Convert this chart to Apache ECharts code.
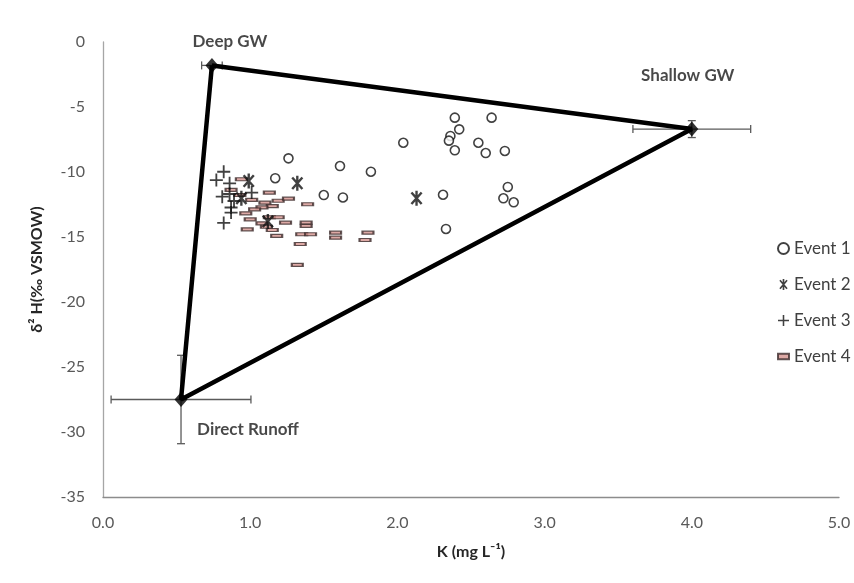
<!DOCTYPE html>
<html>
<head>
<meta charset="utf-8">
<script src="https://cdn.jsdelivr.net/npm/echarts@6/dist/echarts.min.js"></script>
<style>
  html, body { margin: 0; padding: 0; background: #fff; }
  #chart { width: 854px; height: 583px; }
</style>
</head>
<body>
<div id="chart"></div>
<script>
// end members: Deep GW, Shallow GW, Direct Runoff
const endNames = ['Deep GW', 'Shallow GW', 'Direct Runoff']
const endX = [0.74, 4.0, 0.53]
const endY = [-1.8, -6.7, -27.5]
const endXErr = [0.07, 0.40, 0.475]
const endYErr = [0, 0.65, 3.4]

// samples [K, d2H]
const event1 = [
  [2.39, -5.82], [2.64, -5.82], [2.42, -6.72], [2.36, -7.23], [2.35, -7.59],
  [2.55, -7.75], [2.04, -7.75], [2.39, -8.33], [2.60, -8.54], [2.73, -8.38],
  [1.61, -9.54], [1.82, -9.98], [1.26, -8.95], [1.17, -10.48], [1.50, -11.77],
  [1.63, -11.96], [2.31, -11.75], [2.75, -11.15], [2.72, -12.02], [2.79, -12.33],
  [2.33, -14.38]
]
const event2 = [
  [1.32, -10.87], [2.13, -12.02], [0.99, -10.69], [0.94, -12.02], [1.12, -13.8]
]
const event3 = [
  [0.82, -9.98], [0.77, -10.62], [0.86, -10.87], [0.81, -11.9], [0.86, -11.69],
  [0.89, -12.23], [0.87, -12.73], [0.87, -13.12], [0.82, -13.92], [1.01, -11.58]
]
const event4 = [
  [0.94, -10.56], [0.87, -11.38], [0.93, -11.77], [1.13, -11.59], [1.01, -12.15],
  [1.19, -12.21], [1.26, -12.05], [1.10, -12.36], [1.15, -12.62], [1.08, -12.72],
  [1.03, -12.87], [0.97, -13.18], [1.39, -12.48], [1.00, -13.64], [1.13, -13.48],
  [1.19, -13.48], [1.08, -13.95], [1.24, -13.9], [1.11, -14.21], [0.98, -14.41],
  [1.15, -14.46], [1.18, -14.92], [1.38, -13.9], [1.38, -14.15], [1.35, -14.79],
  [1.41, -14.79], [1.34, -15.54], [1.58, -14.67], [1.58, -15.05], [1.32, -17.15],
  [1.80, -14.67], [1.78, -15.23]
]

const font = 'Lato, "Open Sans", sans-serif'
const plusPath = 'path://M0,4.3h10v1.4h-10z M4.3,0h1.4v10h-1.4z'
const starPath = 'path://M4.25,0v10h1.5v-10z M7.64,9.31L8.79,8.35L2.36,0.69L1.21,1.65z M8.79,1.65L7.64,0.69L1.21,8.35L2.36,9.31z'
const dashPath = 'path://M0,0h10v5h-10z'

// triangle closing back to the first end member
const triangle = endX.map((x, i) => [x, endY[i]])
triangle.push([endX[0], endY[0]])

const labelOffsets = [[18, -24], [-4, -54], [67, 30]]

let chartDom = document.getElementById('chart')
let myChart = echarts.init(chartDom)

let option = {
  animation: false,
  backgroundColor: '#fff',
  textStyle: { fontFamily: font },
  grid: { left: 103, right: 15, top: 42, bottom: 86 },
  legend: {
    orient: 'vertical',
    left: 772,
    top: 234,
    itemWidth: 11,
    itemHeight: 11,
    itemGap: 17,
    textStyle: { fontSize: 17, color: '#404040', fontFamily: font, lineHeight: 19 },
    data: ['Event 1', 'Event 2', 'Event 3', 'Event 4']
  },
  xAxis: {
    type: 'value',
    min: 0,
    max: 5,
    interval: 1,
    name: 'K (mg L⁻¹)',
    nameLocation: 'middle',
    nameGap: 47,
    nameTextStyle: { fontSize: 16, fontWeight: 'bold', color: '#262626', fontFamily: font },
    axisLine: { onZero: false, lineStyle: { color: '#8c8c8c', width: 1.3 } },
    axisTick: { show: false },
    splitLine: { show: false },
    axisLabel: {
      fontSize: 16, color: '#595959', margin: 18,
      formatter: v => v.toFixed(1)
    }
  },
  yAxis: {
    type: 'value',
    min: -35,
    max: 0,
    interval: 5,
    name: 'δ² H(‰ VSMOW)',
    nameLocation: 'middle',
    nameGap: 58,
    nameTextStyle: { fontSize: 16, fontWeight: 'bold', color: '#262626', fontFamily: font },
    axisLine: { show: true, onZero: false, lineStyle: { color: '#a6a6a6', width: 1.3 } },
    axisTick: { show: false },
    splitLine: { show: false },
    axisLabel: { fontSize: 16, color: '#595959', margin: 18 }
  },
  series: [
    {
      name: 'errorbars',
      type: 'custom',
      z: 1,
      silent: true,
      data: endX.map((x, i) => [x, endY[i], endXErr[i], endYErr[i]]),
      encode: { x: 0, y: 1 },
      renderItem(params, api) {
        const x = api.value(0), y = api.value(1)
        const ex = api.value(2), ey = api.value(3)
        const style = { stroke: '#5a5a5a', lineWidth: 1.3 }
        const cap = 4
        const children = []
        if (ex > 0) {
          const l = api.coord([x - ex, y]), r = api.coord([x + ex, y])
          children.push({ type: 'line', shape: { x1: l[0], y1: l[1], x2: r[0], y2: r[1] }, style })
          children.push({ type: 'line', shape: { x1: l[0], y1: l[1] - cap, x2: l[0], y2: l[1] + cap }, style })
          children.push({ type: 'line', shape: { x1: r[0], y1: r[1] - cap, x2: r[0], y2: r[1] + cap }, style })
        }
        if (ey > 0) {
          const t = api.coord([x, y + ey]), b = api.coord([x, y - ey])
          children.push({ type: 'line', shape: { x1: t[0], y1: t[1], x2: b[0], y2: b[1] }, style })
          children.push({ type: 'line', shape: { x1: t[0] - cap, y1: t[1], x2: t[0] + cap, y2: t[1] }, style })
          children.push({ type: 'line', shape: { x1: b[0] - cap, y1: b[1], x2: b[0] + cap, y2: b[1] }, style })
        }
        return { type: 'group', children }
      }
    },
    {
      name: 'triangle',
      type: 'line',
      z: 2,
      data: triangle,
      symbol: 'none',
      silent: true,
      lineStyle: { color: '#000', width: 4.5 }
    },
    {
      name: 'end members',
      type: 'scatter',
      z: 5,
      symbol: 'diamond',
      symbolSize: [13, 15],
      itemStyle: { color: '#000' },
      data: endX.map((x, i) => ({
        value: [x, endY[i]],
        label: {
          show: true,
          position: 'inside',
          offset: labelOffsets[i],
          formatter: endNames[i],
          fontSize: 17,
          fontWeight: 'bold',
          color: '#1a1a1a',
          fontFamily: font
        }
      }))
    },
    {
      name: 'Event 1',
      type: 'scatter',
      z: 4,
      symbol: 'circle',
      symbolSize: 9,
      itemStyle: { color: '#fff', borderColor: '#111', borderWidth: 1.6 },
      data: event1
    },
    {
      name: 'Event 2',
      type: 'scatter',
      z: 4,
      symbol: starPath,
      symbolSize: [12, 15],
      itemStyle: { color: '#111' },
      data: event2
    },
    {
      name: 'Event 3',
      type: 'scatter',
      z: 4,
      symbol: plusPath,
      symbolSize: 13,
      itemStyle: { color: '#111' },
      data: event3
    },
    {
      name: 'Event 4',
      type: 'scatter',
      z: 3,
      symbol: dashPath,
      symbolKeepAspect: true,
      symbolSize: [11, 6],
      itemStyle: { color: '#d4938f', borderColor: '#3b2b2b', borderWidth: 1.6 },
      data: event4
    }
  ]
}
myChart.setOption(option)
</script>
</body>
</html>
